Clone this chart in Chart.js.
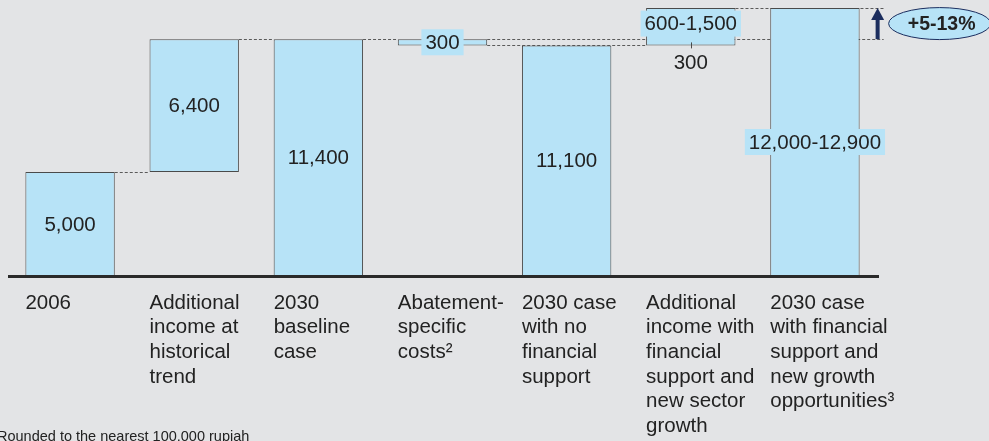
<!DOCTYPE html>
<html>
<head>
<meta charset="utf-8">
<script src="https://cdn.jsdelivr.net/npm/chart.js@4.4.1/dist/chart.umd.min.js"></script>
<style>
    html, body { margin: 0; padding: 0; background: #e3e4e6; }
    #wrap { width: 989px; height: 441px; position: relative; }
</style>
</head>
<body>
<div id="wrap"><canvas id="incomeChart"></canvas></div>
<script>
// ================= DATA =================

const categories = [
    ["2006"],
    ["Additional", "income at", "historical", "trend"],
    ["2030", "baseline", "case"],
    ["Abatement-", "specific", "costs²"],
    ["2030 case", "with no", "financial", "support"],
    ["Additional", "income with", "financial", "support and", "new sector", "growth"],
    ["2030 case", "with financial", "support and", "new growth", "opportunities³"]
];

// floating bars: bottom and top of each step
const barLow = [0, 5000, 0, 11100, 0, 11100, 0];
const barHigh = [5000, 11400, 11400, 11400, 11100, 12900, 12900];

const valueLabels = ["5,000", "6,400", "11,400", "300", "11,100", "600-1,500", "12,000-12,900"];
const recoveredCostLabel = "300";
const upsideLabel = "+5-13%";
const footnote = "Rounded to the nearest 100,000 rupiah";

// ================= STYLE =================

const BAR_FILL = "#b7e3f7";
const BAR_EDGE = "#4a4a4a";
const TEXT = "#222222";
const NAVY = "#1b2d5e";
const FONT = "'Liberation Sans', Arial, sans-serif";

function boxedText(ctx, text, x, y) {
    const w = ctx.measureText(text).width;
    ctx.fillStyle = BAR_FILL;
    ctx.fillRect(x - w / 2 - 4, y - 13, w + 8, 26);
    ctx.fillStyle = TEXT;
    ctx.fillText(text, x, y + 1);
}

function dashed(ctx, x1, x2, y) {
    ctx.beginPath();
    ctx.moveTo(x1, y);
    ctx.lineTo(x2, y);
    ctx.stroke();
}

// connectors between the steps, drawn behind the bars
const connectorPlugin = {
    id: "connectors",
    beforeDatasetsDraw(chart) {
        const ctx = chart.ctx;
        const bars = chart.getDatasetMeta(0).data;
        const y = chart.scales.y;
        const left = i => bars[i].x - bars[i].width / 2;
        const right = i => bars[i].x + bars[i].width / 2;
        const endX = right(6) + 24;

        ctx.save();
        ctx.strokeStyle = "#5a5a5a";
        ctx.lineWidth = 1;
        ctx.setLineDash([3, 2]);
        dashed(ctx, right(0), left(1), Math.round(y.getPixelForValue(barHigh[0])) + 0.5);
        dashed(ctx, right(1), left(2), Math.round(y.getPixelForValue(barHigh[1])) + 0.5);
        dashed(ctx, right(2), left(3), Math.round(y.getPixelForValue(barHigh[2])) + 0.5);
        dashed(ctx, right(3), endX, Math.round(y.getPixelForValue(barHigh[3])) + 0.5);
        dashed(ctx, right(3), left(5), Math.round(y.getPixelForValue(barLow[3])) + 0.5);
        dashed(ctx, right(5), endX, Math.round(y.getPixelForValue(barHigh[5])) + 0.5);
        ctx.restore();
    }
};

// value labels, category labels, baseline, arrow and footnote
const annotationPlugin = {
    id: "annotations",
    afterDatasetsDraw(chart) {
        const ctx = chart.ctx;
        const bars = chart.getDatasetMeta(0).data;
        const y = chart.scales.y;
        const area = chart.chartArea;

        ctx.save();
        ctx.font = "20.5px " + FONT;
        ctx.textAlign = "center";
        ctx.textBaseline = "middle";
        ctx.fillStyle = TEXT;

        bars.forEach((bar, i) => {
            const yTop = y.getPixelForValue(barHigh[i]);
            const yBot = y.getPixelForValue(barLow[i]);
            if (i === 3 || i === 6) {
                boxedText(ctx, valueLabels[i], bar.x, (yTop + yBot) / 2);
            } else if (i === 5) {
                const mid = (yTop + y.getPixelForValue(barHigh[3])) / 2;
                boxedText(ctx, valueLabels[i], bar.x, mid);
                // recovered abatement cost under the step
                ctx.strokeStyle = BAR_EDGE;
                ctx.lineWidth = 1;
                ctx.beginPath();
                ctx.moveTo(Math.round(bar.x) + 0.5, yBot - 3);
                ctx.lineTo(Math.round(bar.x) + 0.5, yBot + 3);
                ctx.stroke();
                ctx.fillStyle = TEXT;
                ctx.fillText(recoveredCostLabel, bar.x, yBot + 18);
            } else {
                ctx.fillText(valueLabels[i], bar.x, (yTop + yBot) / 2 + 1);
            }
        });

        // category labels, left aligned with each bar
        ctx.textAlign = "left";
        ctx.fillStyle = TEXT;
        bars.forEach((bar, i) => {
            const x = bar.x - bar.width / 2;
            categories[i].forEach((line, j) => {
                ctx.fillText(line, x, area.bottom + 27 + j * 24.7);
            });
        });

        // baseline
        ctx.fillStyle = "#2a2a2a";
        ctx.fillRect(area.left, area.bottom - 1, area.right - area.left + 2, 3);

        // upside arrow
        const arrowX = bars[6].x + bars[6].width / 2 + 18;
        const yLow = y.getPixelForValue(barHigh[3]);
        const yHigh = y.getPixelForValue(barHigh[6]);
        ctx.fillStyle = NAVY;
        ctx.fillRect(arrowX - 2, yHigh + 10, 4, yLow - yHigh - 10);
        ctx.beginPath();
        ctx.moveTo(arrowX, yHigh);
        ctx.lineTo(arrowX - 6.5, yHigh + 12);
        ctx.lineTo(arrowX + 6.5, yHigh + 12);
        ctx.closePath();
        ctx.fill();

        // upside bubble
        const cx = arrowX + 62;
        const cy = (yLow + yHigh) / 2;
        ctx.beginPath();
        ctx.ellipse(cx, cy, 51, 16, 0, 0, Math.PI * 2);
        ctx.fillStyle = BAR_FILL;
        ctx.fill();
        ctx.strokeStyle = NAVY;
        ctx.lineWidth = 1;
        ctx.stroke();
        ctx.font = "bold 19.5px " + FONT;
        ctx.textAlign = "center";
        ctx.fillStyle = TEXT;
        ctx.fillText(upsideLabel, cx + 2, cy + 1);

        // footnote
        ctx.font = "14.5px " + FONT;
        ctx.textAlign = "left";
        ctx.textBaseline = "alphabetic";
        ctx.fillText(footnote, -3, 441);
        ctx.restore();
    }
};

// ================= WATERFALL CHART =================

const incomeChart = new Chart(document.getElementById("incomeChart"), {
    type: "bar",

    data: {
        labels: categories,

        datasets: [{
            data: barLow.map((lo, i) => [lo, barHigh[i]]),
            backgroundColor: BAR_FILL,
            borderColor: BAR_EDGE,
            borderWidth: 1,
            borderSkipped: false,
            categoryPercentage: 1,
            barPercentage: 0.72
        }]
    },

    options: {
        responsive: true,
        maintainAspectRatio: false,
        animation: false,

        layout: {
            padding: { left: 8, right: 112, top: 8, bottom: 165 }
        },

        plugins: {
            legend: { display: false },
            tooltip: { enabled: false }
        },

        scales: {
            x: { display: false },
            y: { display: false, min: 0, max: 12900 }
        }
    },

    plugins: [connectorPlugin, annotationPlugin]
});
</script>
</body>
</html>
